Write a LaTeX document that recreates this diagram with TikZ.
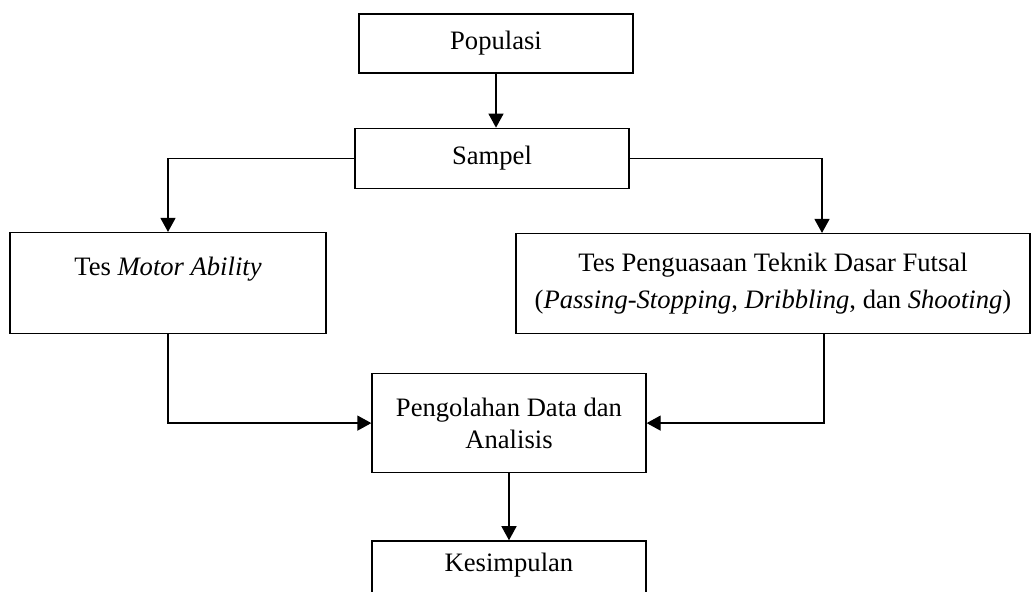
\documentclass[tikz,border=0pt]{standalone}
\usepackage{fontspec}
\setmainfont{Liberation Serif}
\usetikzlibrary{arrows.meta}
\usetikzlibrary{positioning}

\begin{document}
\begin{tikzpicture}[>={Triangle[length=7pt,width=7.5pt]},line width=0.65pt,
                    font=\fontsize{13.3pt}{16pt}\selectfont,
                    main node/.style={rectangle,draw,align=center,inner sep=2pt,
                                      minimum width=137pt,minimum height=50pt}]

  \clip (0,0) rectangle (517.5pt,-296pt);

  \node[main node,minimum height=29.5pt] (pop) at (248pt,-21.75pt) {Populasi};
  \node[main node,minimum height=30pt] (sam) [below=27pt of pop,xshift=-2pt] {Sampel};
  \node[main node,minimum width=158pt,minimum height=50.5pt] (mot) [below=21.5pt of sam,xshift=-162pt]
       {Tes \textit{Motor Ability}\\[1pt] \mbox{}};
  \node[main node,minimum width=257pt] (tek) [below=22pt of sam,xshift=140.5pt]
       {Tes Penguasaan Teknik Dasar Futsal\\[2.5pt]
        (\textit{Passing}-\textit{Stopping}, \textit{Dribbling}, dan \textit{Shooting})};
  \node[main node,minimum height=49.5pt] (olah) [below=92pt of sam,xshift=8.5pt]
       {Pengolahan Data dan\\ Analisis};
  \node[main node,minimum height=49.5pt] (kes) [below=33.5pt of olah] {Kesimpulan\\[12pt] \mbox{}};

  \draw[->] (pop.south) -- (pop.south |- sam.north);
  \draw[->] (sam.west) -| (mot.north);
  \draw[->] (sam.east) -| ([xshift=24.5pt]tek.north);
  \draw[->] (mot.south) |- (olah.west);
  \draw[->] ([xshift=25.5pt]tek.south) |- (olah.east);
  \draw[->] (olah) -- (kes);
\end{tikzpicture}
\end{document}
